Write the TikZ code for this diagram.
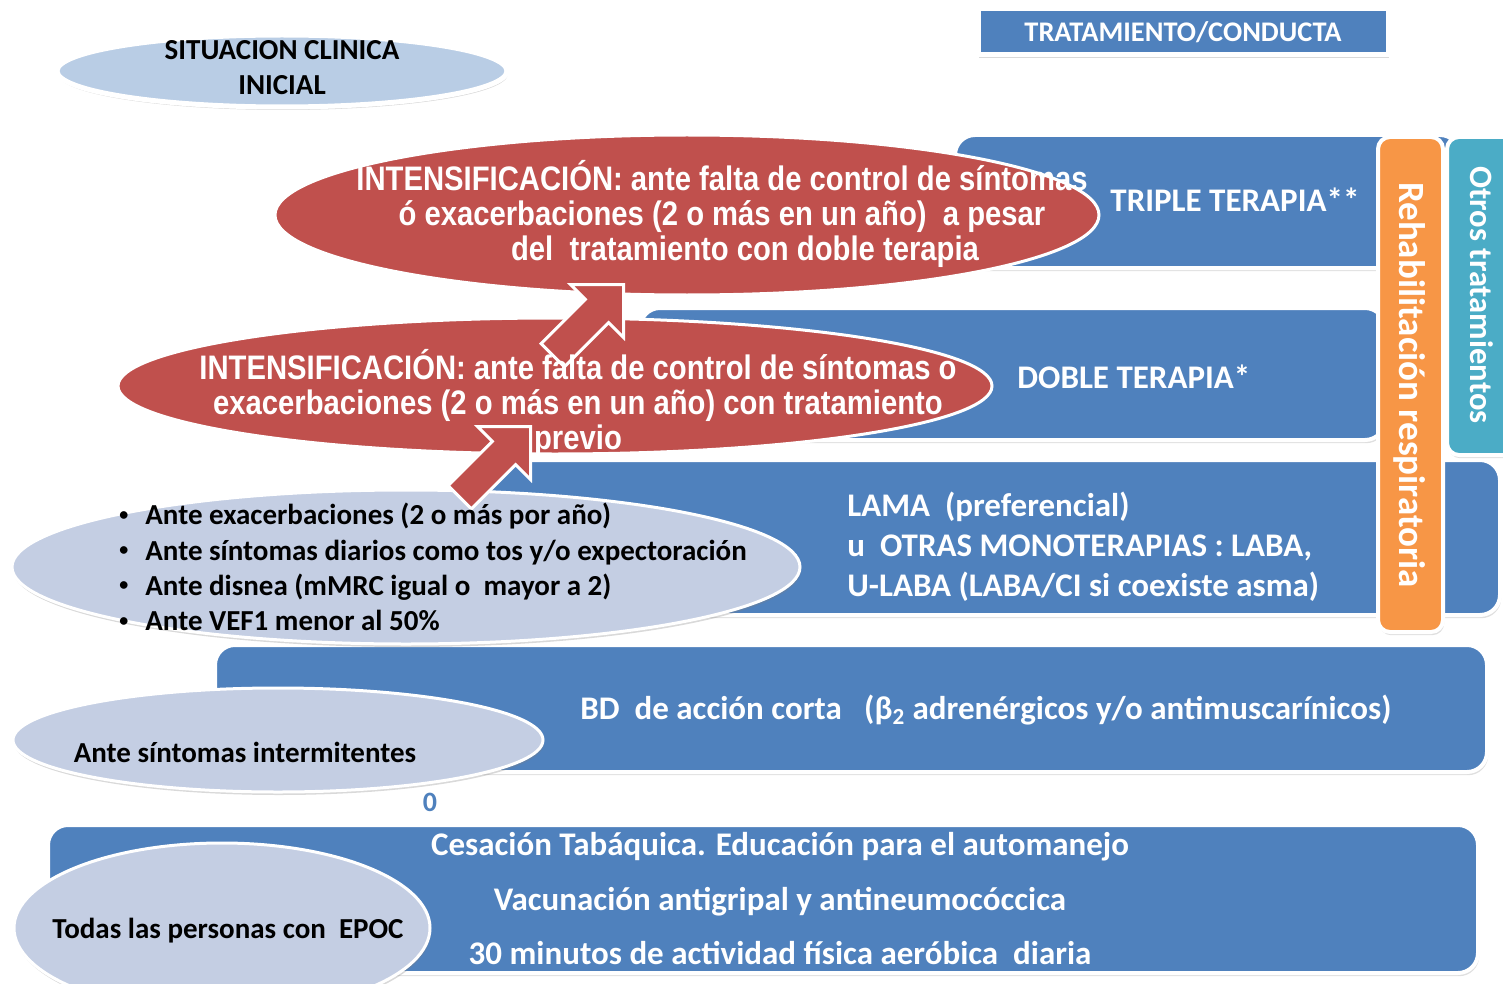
\documentclass[tikz,border=0pt]{standalone}
\usepackage{fontspec}
\setmainfont{Carlito}
\newfontfamily\narrowsans[FakeStretch=0.86]{Liberation Sans}
\usetikzlibrary{shapes.geometric,shapes.arrows,shadows}

\definecolor{bandblue}{HTML}{4F81BD}
\definecolor{ellblue}{HTML}{B9CDE5}
\definecolor{ellgray}{HTML}{C4CEE3}
\definecolor{intred}{HTML}{C0504D}
\definecolor{rehaborange}{HTML}{F79646}
\definecolor{otrosteal}{HTML}{4BACC6}

\newcommand{\blt}{\makebox[14pt][l]{\hspace{1pt}\raisebox{2.2pt}{\fontsize{9}{9}\selectfont\textbullet}}}

\tikzset{
  band/.style={fill=bandblue, draw=white, line width=2pt, rounded corners=10pt,
    drop shadow={shadow xshift=0.6pt, shadow yshift=-1.6pt, opacity=0.25}},
  sidebar/.style={draw=white, line width=2pt, rounded corners=6pt,
    drop shadow={shadow xshift=0.6pt, shadow yshift=-1.6pt, opacity=0.25}},
  situell/.style={ellipse, draw=white, line width=1.5pt, inner sep=0pt,
    drop shadow={shadow xshift=0.5pt, shadow yshift=-1.5pt, opacity=0.3}},
  intell/.style={ellipse, fill=intred, draw=white, line width=1.5pt, inner sep=0pt},
  bigarrow/.style={single arrow, fill=intred, draw=white, line width=1.5pt,
    inner sep=0pt, inner ysep=7.5pt, single arrow head extend=10.5pt,
    single arrow tip angle=90, minimum height=50pt, rotate=45, anchor=tip},
  bandtxt/.style={text=white, inner sep=0pt, font=\bfseries\fontsize{16.5}{20}\selectfont},
  elltxt/.style={text=black, inner sep=0pt, font=\bfseries\fontsize{14.5}{17.5}\selectfont},
  inttxt/.style={text=white, inner sep=0pt, align=center,
    font=\narrowsans\bfseries\fontsize{17}{17.3}\selectfont},
  sidetxt/.style={text=white, inner sep=0pt, rotate=-90}
}

\begin{document}
\begin{tikzpicture}[x=0.5pt, y=-0.5pt]
\useasboundingbox (0,0) rectangle (1503,984);

% bandas de tratamiento
\path[band] (955,135) rectangle (1460,268);
\path[band] (640,308) rectangle (1385,440);
\path[band] (480,460) rectangle (1500,615);
\path[band] (215,645) rectangle (1487,772);
\path[band] (48,825) rectangle (1478,973);

% barras laterales
\path[sidebar, fill=otrosteal] (1447,137) rectangle (1530,455);
\path[sidebar, fill=rehaborange] (1378,137) rectangle (1443,632);

\node[draw=white, line width=2.5pt, fill=bandblue, minimum width=205pt, minimum height=23pt,
  drop shadow={shadow xshift=0.6pt, shadow yshift=-1.6pt, opacity=0.3},
  bandtxt, font=\bfseries\fontsize{14.2}{17}\selectfont] (trat) at (1183,32) {TRATAMIENTO/CONDUCTA};

% situaciones clinicas
\node[situell, fill=ellblue, line width=2.5pt, minimum width=225pt, minimum height=36pt] (sitcl) at (282,71) {};
\node[intell, minimum width=412pt, minimum height=80pt] (int2) at (687,215) {};
\node[intell, minimum width=437pt, minimum height=68pt] (int1) at (555,386) {};
\node[situell, fill=ellgray, minimum width=394pt, minimum height=77pt] (crit) at (406,567) {};
\node[situell, fill=ellgray, minimum width=265pt, minimum height=52pt] (interm) at (278,740) {};
\node[situell, fill=ellgray, minimum width=208pt, minimum height=85pt] (todas) at (222,928) {};

% flechas de intensificacion
\node[bigarrow] (arrA) at (532,425) {};
\node[bigarrow] (arrB) at (625,283) {};

% textos
\node[elltxt, align=center] (sittxt) at (282,68) {SITUACION CLINICA\\INICIAL};
\node[inttxt] (int2txt) at (722,214) {INTENSIFICACIÓN: ante falta de control de síntomas\\
  ó exacerbaciones (2 o más en un año)\ \ a pesar\\\hspace*{23pt}del\ \ tratamiento con doble terapia};
\node[inttxt] (int1txt) at (578,403) {INTENSIFICACIÓN: ante falta de control de síntomas o\\
  exacerbaciones (2 o más en un año) con tratamiento\\previo};
\node[bandtxt, anchor=base west] (tripletxt) at (1110,212) {TRIPLE TERAPIA**};
\node[bandtxt, anchor=base west] (dobletxt) at (1017,388) {DOBLE TERAPIA*};
\node[elltxt, anchor=west, align=left, font=\bfseries\fontsize{14.5}{17.6}\selectfont] (crittxt) at (117,567)
  {\blt Ante exacerbaciones (2 o más por año)\\\blt Ante síntomas diarios como tos y/o expectoración\\
   \blt Ante disnea (mMRC igual o\ \ mayor a 2)\\\blt Ante VEF1 menor al 50\%};
\node[bandtxt, anchor=west, align=left] (lamatxt) at (847,547)
  {LAMA\ \ (preferencial)\\u\ \ OTRAS MONOTERAPIAS : LABA,\\U-LABA (LABA/CI si coexiste asma)};
\node[bandtxt, anchor=base west] (bdtxt) at (580,719)
  {BD\ \ de acción corta\ \ \ (β\textsubscript{2} adrenérgicos y/o antimuscarínicos)};
\node[elltxt, anchor=base] (intermtxt) at (245,762) {Ante síntomas intermitentes};
\node[text=bandblue, font=\bfseries\fontsize{14}{16}\selectfont, inner sep=0pt, anchor=base] (cero) at (430,811) {0};
\node[bandtxt, align=center, font=\bfseries\fontsize{16.5}{27.25}\selectfont] (basetxt) at (780,899)
  {Cesación Tabáquica. Educación para el automanejo\\Vacunación antigripal y antineumocóccica\\
   30 minutos de actividad física aeróbica\ \ diaria};
\node[elltxt, anchor=base] (todastxt) at (228,938) {Todas las personas con\ \ EPOC};
\node[sidetxt, font=\bfseries\fontsize{18.5}{22}\selectfont] (rehabtxt) at (1410,385) {Rehabilitación respiratoria};
\node[sidetxt, font=\bfseries\fontsize{16.3}{20}\selectfont] (otrostxt) at (1482,295) {Otros tratamientos};
\end{tikzpicture}
\end{document}
